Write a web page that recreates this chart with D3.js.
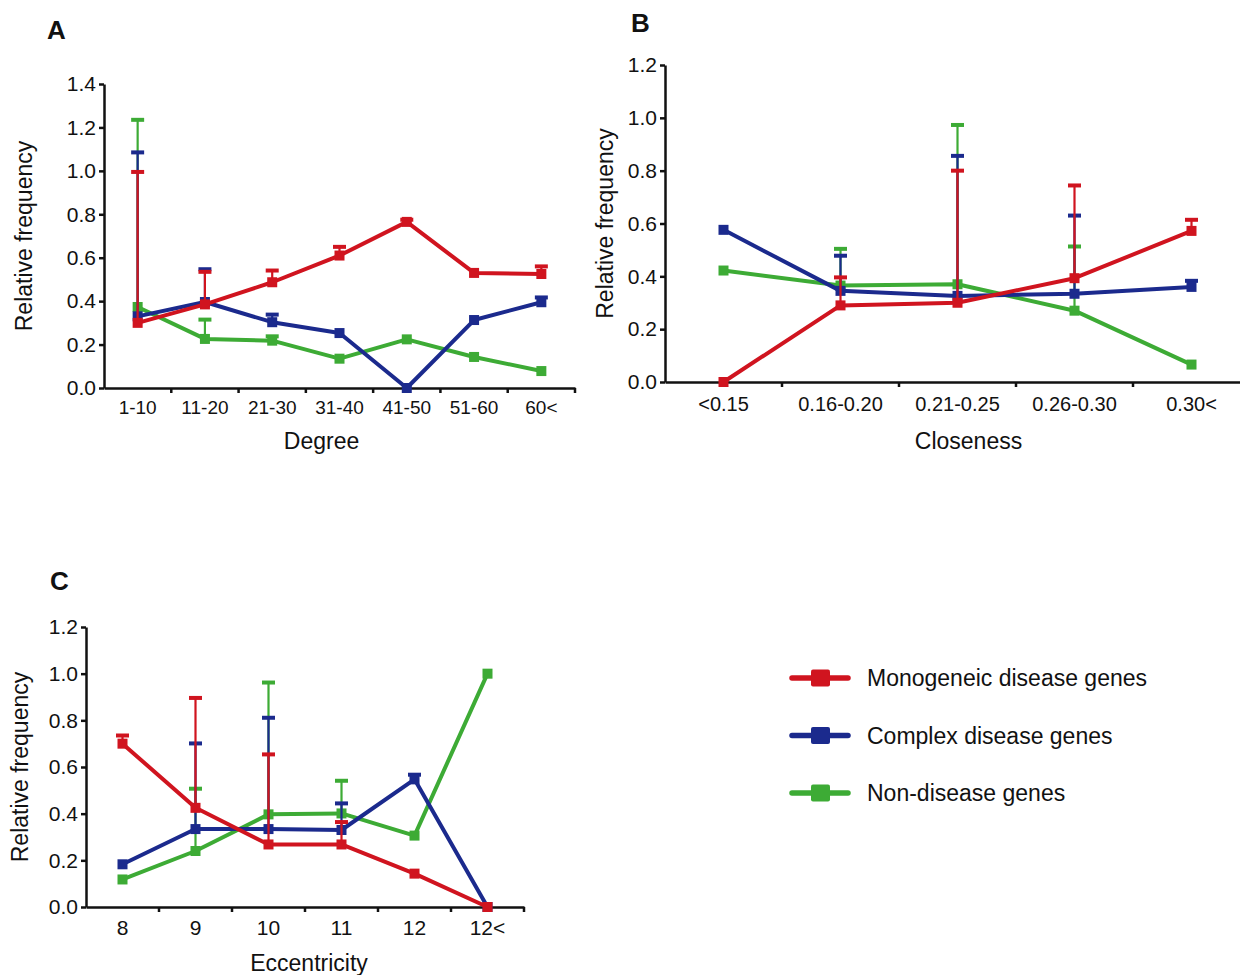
<!DOCTYPE html>
<html>
<head>
<meta charset="utf-8">
<script src="https://cdn.jsdelivr.net/npm/d3@7"></script>
<style>
  body { margin: 0; background: #fff; }
  svg text { font-family: "Liberation Sans", Arial, sans-serif; fill: #111; }
</style>
</head>
<body>
<svg id="chart" width="1240" height="975"></svg>
<script>
// ---- data ----
var seriesNames = ['Monogeneic disease genes', 'Complex disease genes', 'Non-disease genes'];
var seriesColors = ['#d0141f', '#1b2a8d', '#3dab35'];

var degreeCats = ['1-10', '11-20', '21-30', '31-40', '41-50', '51-60', '60<'];
var degreeMono = [0.30, 0.385, 0.487, 0.61, 0.765, 0.53, 0.525];
var degreeMonoUp = [0.995, 0.535, 0.541, 0.65, 0.775, 0.53, 0.56];
var degreeComplex = [0.33, 0.396, 0.303, 0.253, 0.0, 0.313, 0.395];
var degreeComplexUp = [1.085, 0.547, 0.338, 0.253, 0.0, 0.313, 0.417];
var degreeNon = [0.373, 0.226, 0.218, 0.135, 0.224, 0.143, 0.078];
var degreeNonUp = [1.235, 0.315, 0.238, 0.135, 0.224, 0.143, 0.078];

var closenessCats = ['<0.15', '0.16-0.20', '0.21-0.25', '0.26-0.30', '0.30<'];
var closenessMono = [0.0, 0.29, 0.30, 0.393, 0.572];
var closenessMonoUp = [0.0, 0.396, 0.80, 0.744, 0.614];
var closenessComplex = [0.576, 0.345, 0.326, 0.334, 0.36];
var closenessComplexUp = [0.576, 0.478, 0.856, 0.63, 0.383];
var closenessNon = [0.422, 0.365, 0.37, 0.27, 0.066];
var closenessNonUp = [0.422, 0.504, 0.973, 0.513, 0.066];

var eccCats = ['8', '9', '10', '11', '12', '12<'];
var eccMono = [0.70, 0.425, 0.268, 0.268, 0.143, 0.0];
var eccMonoUp = [0.735, 0.896, 0.654, 0.364, 0.143, 0.0];
var eccComplex = [0.183, 0.334, 0.334, 0.33, 0.547, 0.0];
var eccComplexUp = [0.183, 0.701, 0.811, 0.444, 0.567, 0.0];
var eccNon = [0.118, 0.24, 0.397, 0.401, 0.306, 1.0];
var eccNonUp = [0.118, 0.507, 0.962, 0.541, 0.306, 1.0];

var svg = d3.select('#chart');

function drawPanel(opt) {
  var x = d3.scaleBand().domain(opt.cats).range([opt.x0, opt.x1]).padding(0);
  var y = d3.scaleLinear().domain([0, opt.yMax]).range([opt.yBottom, opt.yTop]);
  var cx = function (c) { return x(c) + x.bandwidth() / 2; };
  var g = svg.append('g');

  // y axis
  var yAxis = g.append('g')
    .attr('transform', 'translate(' + opt.x0 + ',0)')
    .call(d3.axisLeft(y).tickValues(d3.range(0, opt.yMax + 0.01, 0.2))
      .tickFormat(d3.format('.1f')).tickSize(5).tickSizeOuter(0).tickPadding(3));
  yAxis.select('.domain').attr('stroke', '#111').attr('stroke-width', 2.5);
  yAxis.selectAll('.tick line').attr('stroke', '#111').attr('stroke-width', 2.5);
  yAxis.selectAll('.tick text').attr('font-size', opt.yFont).style('font-family', null);

  // x axis (labels at band centres, ticks at band edges)
  var xAxis = g.append('g')
    .attr('transform', 'translate(0,' + opt.yBottom + ')')
    .call(d3.axisBottom(x).tickSize(0).tickSizeOuter(0).tickPadding(opt.xPad));
  xAxis.select('.domain').attr('stroke', '#111').attr('stroke-width', 2.5);
  xAxis.selectAll('.tick text').attr('font-size', opt.xFont).style('font-family', null);
  g.selectAll('.edge').data(opt.cats).enter().append('line')
    .attr('x1', function (c) { return x(c) + x.bandwidth(); })
    .attr('x2', function (c) { return x(c) + x.bandwidth(); })
    .attr('y1', opt.yBottom).attr('y2', opt.yBottom + 5)
    .attr('stroke', '#111').attr('stroke-width', 2.5);

  // titles
  g.append('text').attr('x', (opt.x0 + Math.min(opt.x1, 1240)) / 2 + opt.titleShift)
    .attr('y', opt.yBottom + opt.titleGap).attr('text-anchor', 'middle')
    .attr('font-size', 23).text(opt.xTitle);
  g.append('text')
    .attr('transform', 'translate(' + opt.yTitleX + ',' + (opt.yTop + opt.yBottom) / 2 + ') rotate(-90)')
    .attr('text-anchor', 'middle').attr('font-size', 23).text('Relative frequency');
  svg.append('text').attr('x', opt.letterX).attr('y', opt.letterY)
    .attr('font-size', 26).attr('font-weight', 'bold').text(opt.letter);

  // series: green first, red on top
  var line = d3.line().x(function (d) { return cx(d.c); }).y(function (d) { return y(d.v); });
  [2, 1, 0].forEach(function (si) {
    var pts = opt.cats.map(function (c, i) {
      return { c: c, v: opt.values[si][i], up: opt.uppers[si][i] };
    });
    var col = seriesColors[si];
    var sg = g.append('g');
    var bars = pts.filter(function (d) { return d.up - d.v > 0.005; });
    sg.selectAll('.err').data(bars).enter().append('line')
      .attr('x1', function (d) { return cx(d.c); }).attr('x2', function (d) { return cx(d.c); })
      .attr('y1', function (d) { return y(d.v); }).attr('y2', function (d) { return y(d.up); })
      .attr('stroke', col).attr('stroke-width', 2.2);
    sg.selectAll('.cap').data(bars).enter().append('line')
      .attr('x1', function (d) { return cx(d.c) - 6.5; }).attr('x2', function (d) { return cx(d.c) + 6.5; })
      .attr('y1', function (d) { return y(d.up); }).attr('y2', function (d) { return y(d.up); })
      .attr('stroke', col).attr('stroke-width', 4);
    sg.append('path').datum(pts).attr('d', line)
      .attr('fill', 'none').attr('stroke', col).attr('stroke-width', 4)
      .attr('stroke-linejoin', 'round');
    sg.selectAll('.pt').data(pts).enter().append('rect')
      .attr('x', function (d) { return cx(d.c) - 5; })
      .attr('y', function (d) { return y(d.v) - 5; })
      .attr('width', 10).attr('height', 10).attr('fill', col);
  });
}

drawPanel({
  letter: 'A', letterX: 47, letterY: 39,
  cats: degreeCats,
  values: [degreeMono, degreeComplex, degreeNon],
  uppers: [degreeMonoUp, degreeComplexUp, degreeNonUp],
  x0: 104, x1: 575, yTop: 84, yBottom: 388, yMax: 1.4,
  yFont: 21, xFont: 19, xPad: 13, xTitle: 'Degree', titleGap: 61, titleShift: -18,
  yTitleX: 32
});

drawPanel({
  letter: 'B', letterX: 631, letterY: 32,
  cats: closenessCats,
  values: [closenessMono, closenessComplex, closenessNon],
  uppers: [closenessMonoUp, closenessComplexUp, closenessNonUp],
  x0: 665, x1: 1250, yTop: 65, yBottom: 382, yMax: 1.2,
  yFont: 21, xFont: 20, xPad: 15, xTitle: 'Closeness', titleGap: 67, titleShift: 16,
  yTitleX: 613
});

drawPanel({
  letter: 'C', letterX: 50, letterY: 590,
  cats: eccCats,
  values: [eccMono, eccComplex, eccNon],
  uppers: [eccMonoUp, eccComplexUp, eccNonUp],
  x0: 86, x1: 524, yTop: 627, yBottom: 907, yMax: 1.2,
  yFont: 21, xFont: 21, xPad: 13, xTitle: 'Eccentricity', titleGap: 64, titleShift: 4,
  yTitleX: 28
});

// legend
var legend = svg.append('g').selectAll('g').data(seriesNames).enter().append('g')
  .attr('transform', function (d, i) { return 'translate(792,' + (678 + i * 57.5) + ')'; });
legend.append('line').attr('x1', 0).attr('x2', 56).attr('y1', 0).attr('y2', 0)
  .attr('stroke', function (d, i) { return seriesColors[i]; })
  .attr('stroke-width', 5.5).attr('stroke-linecap', 'round');
legend.append('rect').attr('x', 19).attr('y', -8.5).attr('width', 19).attr('height', 17)
  .attr('rx', 2).attr('fill', function (d, i) { return seriesColors[i]; });
legend.append('text').attr('x', 75).attr('y', 8).attr('font-size', 23)
  .text(function (d) { return d; });
</script>
</body>
</html>
